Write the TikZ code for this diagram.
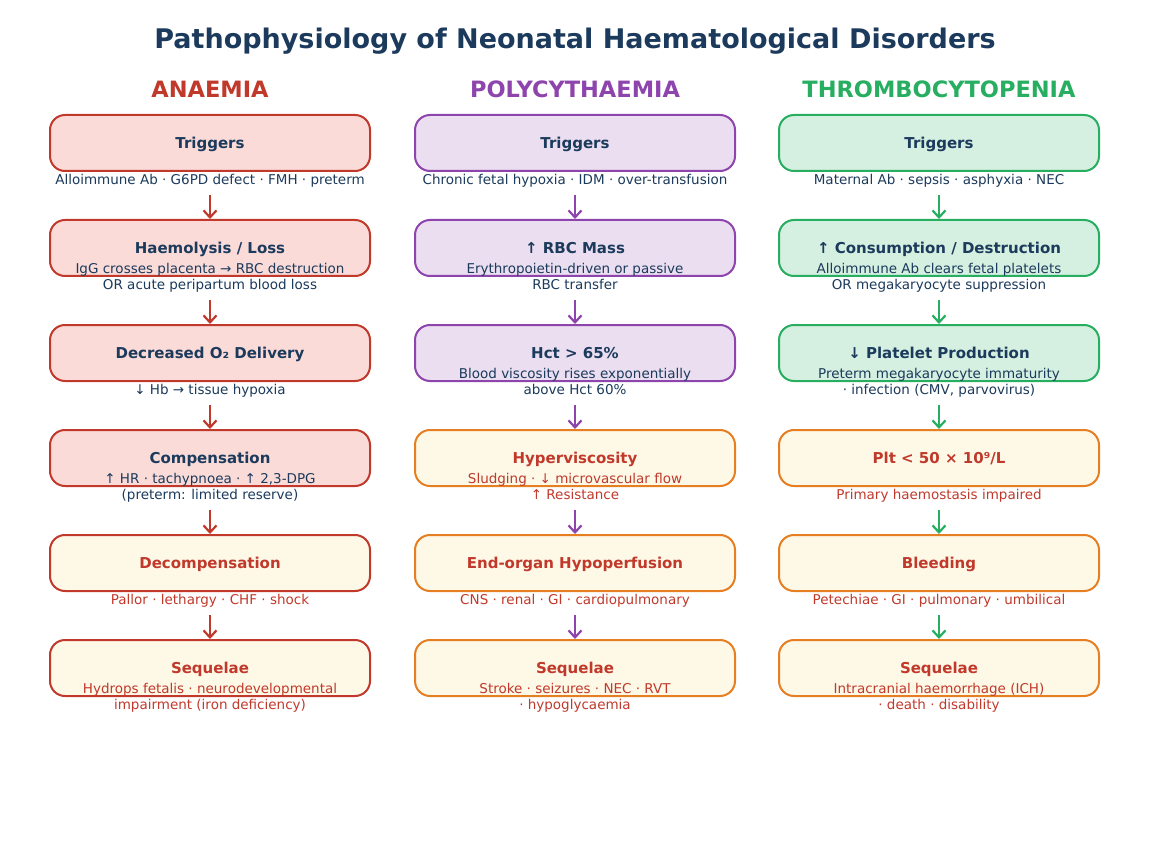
\documentclass[tikz,border=0pt]{standalone}
\usepackage{fontspec}
\setmainfont{DejaVu Sans}
\usetikzlibrary{arrows.meta}
\definecolor{navy}{HTML}{1B3A5C}
\definecolor{anred}{HTML}{C0392B}
\definecolor{anfill}{HTML}{FADBD8}
\definecolor{polypurple}{HTML}{8E44AD}
\definecolor{polyfill}{HTML}{EADEF0}
\definecolor{thrgreen}{HTML}{27AE60}
\definecolor{thrfill}{HTML}{D5F0E0}
\definecolor{sevorange}{HTML}{E67E22}
\definecolor{sevfill}{HTML}{FEF8E7}
\begin{document}
\begin{tikzpicture}[x=1pt,y=-1pt,
   box/.style={draw,rounded corners=15pt,line width=2pt,minimum width=320pt,
     minimum height=56pt,inner sep=0pt,text height=11pt,text depth=0pt,
     font=\fontsize{15}{18}\selectfont\bfseries},
   note/.style={anchor=south,align=center,inner sep=0pt,execute at end node=\strut,
     font=\fontsize{13.5}{16.5}\selectfont},
   head/.style={font=\fontsize{22.5}{26}\selectfont\bfseries},
   arr/.style={-{Straight Barb[length=7pt,width=13pt]},line width=2.2pt}]
   \useasboundingbox (0,0) rectangle (1149,853);
   \node[navy,font=\fontsize{27}{32}\selectfont\bfseries] (title) at (575,41)
     {Pathophysiology of Neonatal Haematological Disorders};

   % anaemia
   \node[head,anred] (anhead) at (210,89) {ANAEMIA};
   \node[box,draw=anred,fill=anfill,text=navy] (a1) at (210,143) {Triggers};
   \node[note,navy] (a1n) at (210,190) {Alloimmune Ab · G6PD defect · FMH · preterm};
   \node[box,draw=anred,fill=anfill,text=navy] (a2) at (210,248) {Haemolysis / Loss};
   \node[note,navy] (a2n) at (210,295) {IgG crosses placenta → RBC destruction\\OR acute peripartum blood loss};
   \node[box,draw=anred,fill=anfill,text=navy] (a3) at (210,353) {Decreased O₂ Delivery};
   \node[note,navy] (a3n) at (210,400) {↓ Hb → tissue hypoxia};
   \node[box,draw=anred,fill=anfill,text=navy] (a4) at (210,458) {Compensation};
   \node[note,navy] (a4n) at (210,505) {↑ HR · tachypnoea · ↑ 2,3-DPG\\(preterm: limited reserve)};
   \node[box,draw=anred,fill=sevfill,text=anred] (a5) at (210,563) {Decompensation};
   \node[note,anred] (a5n) at (210,610) {Pallor · lethargy · CHF · shock};
   \node[box,draw=anred,fill=sevfill,text=anred] (a6) at (210,668) {Sequelae};
   \node[note,anred] (a6n) at (210,715) {Hydrops fetalis · neurodevelopmental\\impairment (iron deficiency)};

   % polycythaemia
   \node[head,polypurple] (pohead) at (575,89) {POLYCYTHAEMIA};
   \node[box,draw=polypurple,fill=polyfill,text=navy] (p1) at (575,143) {Triggers};
   \node[note,navy] (p1n) at (575,190) {Chronic fetal hypoxia · IDM · over-transfusion};
   \node[box,draw=polypurple,fill=polyfill,text=navy] (p2) at (575,248) {↑ RBC Mass};
   \node[note,navy] (p2n) at (575,295) {Erythropoietin-driven or passive\\RBC transfer};
   \node[box,draw=polypurple,fill=polyfill,text=navy] (p3) at (575,353) {Hct > 65\%};
   \node[note,navy] (p3n) at (575,400) {Blood viscosity rises exponentially\\above Hct 60\%};
   \node[box,draw=sevorange,fill=sevfill,text=anred] (p4) at (575,458) {Hyperviscosity};
   \node[note,anred] (p4n) at (575,505) {Sludging · ↓ microvascular flow\\↑ Resistance};
   \node[box,draw=sevorange,fill=sevfill,text=anred] (p5) at (575,563) {End-organ Hypoperfusion};
   \node[note,anred] (p5n) at (575,610) {CNS · renal · GI · cardiopulmonary};
   \node[box,draw=sevorange,fill=sevfill,text=anred] (p6) at (575,668) {Sequelae};
   \node[note,anred] (p6n) at (575,715) {Stroke · seizures · NEC · RVT\\· hypoglycaemia};

   % thrombocytopenia
   \node[head,thrgreen] (thhead) at (939,89) {THROMBOCYTOPENIA};
   \node[box,draw=thrgreen,fill=thrfill,text=navy] (t1) at (939,143) {Triggers};
   \node[note,navy] (t1n) at (939,190) {Maternal Ab · sepsis · asphyxia · NEC};
   \node[box,draw=thrgreen,fill=thrfill,text=navy] (t2) at (939,248) {↑ Consumption / Destruction};
   \node[note,navy] (t2n) at (939,295) {Alloimmune Ab clears fetal platelets\\OR megakaryocyte suppression};
   \node[box,draw=thrgreen,fill=thrfill,text=navy] (t3) at (939,353) {↓ Platelet Production};
   \node[note,navy] (t3n) at (939,400) {Preterm megakaryocyte immaturity\\· infection (CMV, parvovirus)};
   \node[box,draw=sevorange,fill=sevfill,text=anred] (t4) at (939,458) {Plt < 50 × 10⁹/L};
   \node[note,anred] (t4n) at (939,505) {Primary haemostasis impaired};
   \node[box,draw=sevorange,fill=sevfill,text=anred] (t5) at (939,563) {Bleeding};
   \node[note,anred] (t5n) at (939,610) {Petechiae · GI · pulmonary · umbilical};
   \node[box,draw=sevorange,fill=sevfill,text=anred] (t6) at (939,668) {Sequelae};
   \node[note,anred] (t6n) at (939,715) {Intracranial haemorrhage (ICH)\\· death · disability};

   % arrows
   \draw[arr,anred] ([yshift=-23pt]a1.south) -- (a2.north);
   \draw[arr,anred] ([yshift=-23pt]a2.south) -- (a3.north);
   \draw[arr,anred] ([yshift=-23pt]a3.south) -- (a4.north);
   \draw[arr,anred] ([yshift=-23pt]a4.south) -- (a5.north);
   \draw[arr,anred] ([yshift=-23pt]a5.south) -- (a6.north);
   \draw[arr,polypurple] ([yshift=-23pt]p1.south) -- (p2.north);
   \draw[arr,polypurple] ([yshift=-23pt]p2.south) -- (p3.north);
   \draw[arr,polypurple] ([yshift=-23pt]p3.south) -- (p4.north);
   \draw[arr,polypurple] ([yshift=-23pt]p4.south) -- (p5.north);
   \draw[arr,polypurple] ([yshift=-23pt]p5.south) -- (p6.north);
   \draw[arr,thrgreen] ([yshift=-23pt]t1.south) -- (t2.north);
   \draw[arr,thrgreen] ([yshift=-23pt]t2.south) -- (t3.north);
   \draw[arr,thrgreen] ([yshift=-23pt]t3.south) -- (t4.north);
   \draw[arr,thrgreen] ([yshift=-23pt]t4.south) -- (t5.north);
   \draw[arr,thrgreen] ([yshift=-23pt]t5.south) -- (t6.north);
\end{tikzpicture}
\end{document}
